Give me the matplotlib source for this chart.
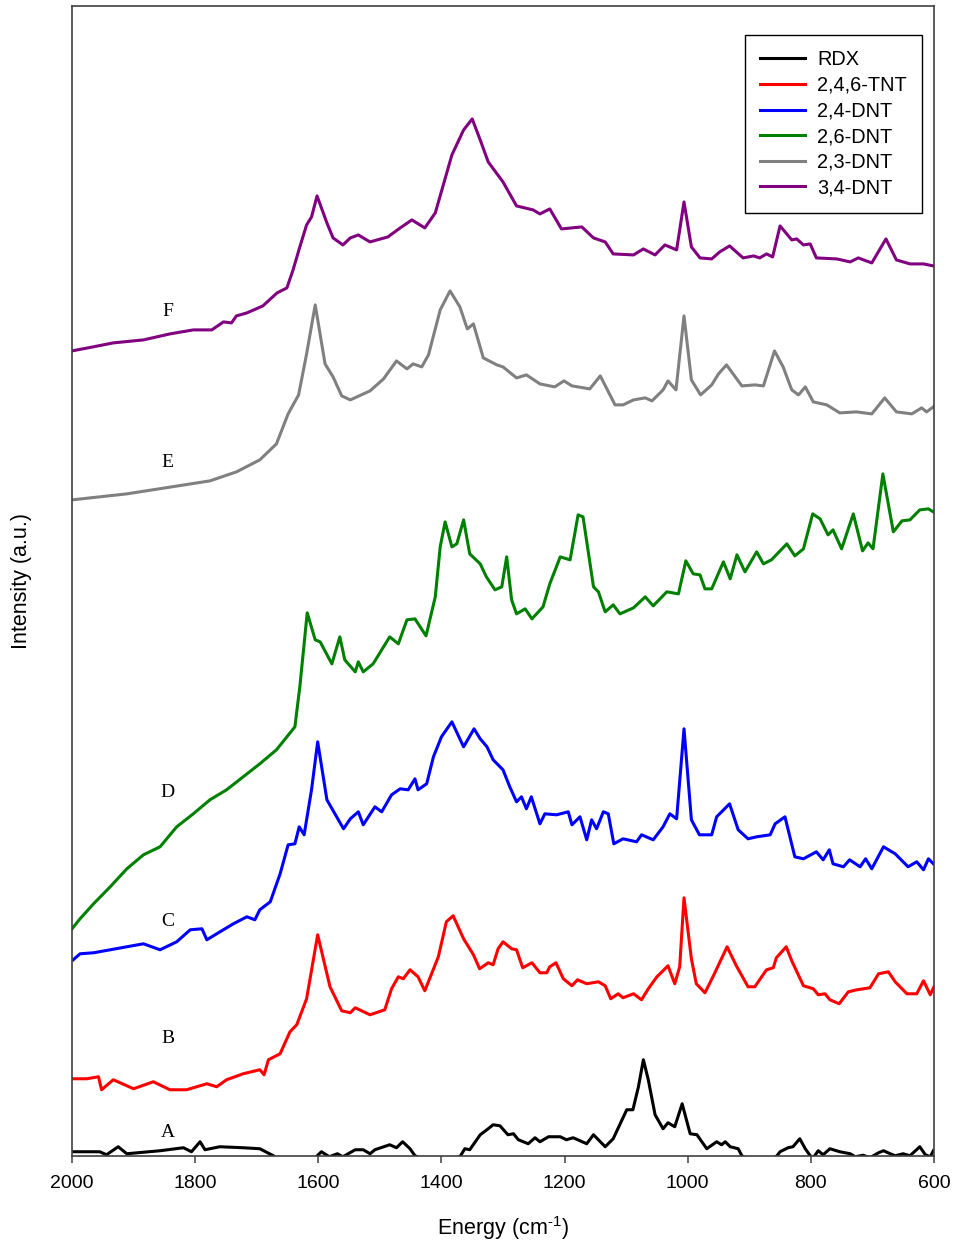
import numpy as np
import matplotlib
matplotlib.use("Agg")
import matplotlib.pyplot as plt

# Raman spectra, offset traces (energy in cm-1, intensity in a.u.)
rdx_x = [2000, 1955, 1944, 1925, 1911, 1857, 1819, 1806, 1792, 1784, 1760, 1722, 1695, 1673,
         1662, 1630, 1605, 1595, 1582, 1569, 1560, 1540, 1527, 1516, 1508, 1484, 1473, 1463,
         1451, 1443, 1419, 1386, 1370, 1362, 1354, 1337, 1324, 1316, 1305, 1292, 1283, 1275,
         1259, 1248, 1240, 1226, 1207, 1197, 1186, 1164, 1153, 1134, 1121, 1099, 1089, 1080,
         1072, 1064, 1053, 1040, 1032, 1021, 1009, 996, 985, 969, 953, 945, 939, 931, 918,
         912, 891, 866, 855, 850, 837, 829, 818, 809, 801, 796, 788, 780, 769, 753, 736, 728,
         715, 704, 690, 682, 671, 663, 650, 639, 623, 614, 606, 601]
rdx_y = [4, 4, 1, 9, 2, 5, 8, 4, 14, 6, 9, 8, 7, 0,
         -5, -5, -2, 4, -1, 2, -1, 6, 6, 2, 6, 11, 8, 14,
         7, 0, -6, -4, -1, 7, 6, 21, 27, 31, 30, 21, 22, 16,
         12, 18, 14, 19, 19, 16, 18, 12, 21, 9, 17, 46, 46, 69,
         96, 76, 41, 27, 33, 29, 52, 22, 21, 7, 14, 11, 14, 9, 7,
         0, -8, -6, 0, 4, 8, 9, 17, 7, 0, -2, 5, 1, 7, 4, 2, -1,
         0.5, -2, 3, 5, 2, 0, 2, 0, 9, 1, -1, 5]

tnt_x = [2000, 1976, 1957, 1952, 1933, 1900, 1868, 1841, 1814, 1781, 1765, 1749, 1722, 1695,
         1688, 1681, 1662, 1646, 1635, 1619, 1601, 1581, 1562, 1548, 1540, 1516, 1492, 1481,
         1470, 1462, 1451, 1438, 1427, 1405, 1392, 1381, 1364, 1348, 1338, 1324, 1316, 1308,
         1300, 1286, 1278, 1268, 1253, 1240, 1229, 1224, 1214, 1202, 1188, 1179, 1164, 1145,
         1134, 1125, 1113, 1105, 1088, 1075, 1064, 1050, 1032, 1021, 1013, 1006, 994, 986,
         972, 959, 936, 921, 902, 891, 872, 861, 856, 840, 831, 812, 796, 788, 777, 769, 754,
         739, 725, 704, 690, 674, 663, 644, 628, 617, 606, 600]
tnt_y = [77, 77, 79, 66, 76, 67, 74, 66, 66, 72, 69, 76, 82, 86,
         81, 96, 102, 124, 131, 157, 221, 169, 145, 143, 148, 141, 146, 167,
         179, 177, 186, 179, 165, 199, 234, 240, 217, 201, 187, 193, 191, 207,
         214, 207, 206, 188, 193, 183, 183, 189, 193, 177, 170, 176, 172, 174,
         170, 157, 162, 158, 162, 156, 167, 179, 190, 172, 189, 258, 197, 172,
         163, 179, 209, 190, 169, 169, 186, 188, 198, 209, 195, 170, 167, 161, 162, 156, 152,
         164, 166, 168, 182, 184, 174, 162, 162, 175, 161, 169]

dnt24_x = [1998, 1987, 1965, 1938, 1911, 1884, 1857, 1830, 1808, 1789, 1781, 1765, 1738, 1716,
           1703, 1695, 1678, 1662, 1649, 1638, 1631, 1623, 1611, 1601, 1586, 1573, 1559, 1548,
           1535, 1527, 1508, 1497, 1481, 1467, 1454, 1443, 1438, 1424, 1413, 1400, 1383, 1364,
           1347, 1337, 1326, 1316, 1300, 1289, 1278, 1270, 1262, 1254, 1240, 1232, 1213, 1194,
           1188, 1175, 1164, 1156, 1148, 1137, 1129, 1120, 1105, 1083, 1075, 1056, 1040, 1029,
           1018, 1006, 994, 981, 961, 953, 932, 918, 902, 888, 866, 858, 842, 826, 812, 791,
           780, 770, 764, 747, 737, 720, 711, 701, 682, 663, 642, 628, 617, 609, 601]
dnt24_y = [196, 202, 203, 206, 209, 212, 206, 214, 226, 227, 216, 222, 232, 239,
           236, 246, 254, 282, 311, 312, 329, 321, 366, 414, 356, 342, 327, 337,
           344, 331, 349, 344, 361, 367, 366, 377, 366, 372, 399, 419, 434, 409,
           427, 417, 409, 396, 386, 369, 354, 359, 347, 359, 332, 342, 341, 344,
           331, 339, 316, 336, 327, 344, 342, 312, 317, 314, 321, 316, 329, 342,
           337, 427, 336, 321, 321, 339, 352, 326, 317, 319, 321, 332, 339, 299, 297, 304,
           296, 306, 292, 289, 296, 289, 297, 287, 309, 302, 289, 294, 286, 297, 292]

dnt26_x = [2000, 1987, 1965, 1938, 1911, 1884, 1857, 1830, 1803, 1776, 1749, 1722, 1695, 1668,
           1651, 1638, 1630, 1618, 1605, 1597, 1578, 1565, 1557, 1540, 1535, 1527, 1511, 1484,
           1470, 1456, 1443, 1425, 1410, 1402, 1394, 1383, 1375, 1364, 1354, 1337, 1327, 1313,
           1302, 1294, 1286, 1278, 1264, 1253, 1235, 1224, 1207, 1191, 1178, 1170, 1153, 1145,
           1134, 1121, 1110, 1088, 1069, 1056, 1034, 1015, 1003, 991, 980, 972, 961, 942, 931,
           920, 907, 888, 877, 864, 839, 826, 812, 797, 785, 772, 764, 750, 731, 716, 707, 699,
           683, 666, 652, 639, 623, 609, 601]
dnt26_y = [227, 237, 252, 269, 287, 301, 309, 329, 342, 356, 366, 379, 392, 406,
           419, 429, 469, 543, 516, 514, 492, 519, 496, 484, 494, 484, 492, 519,
           512, 536, 537, 520, 559, 609, 634, 609, 612, 636, 602, 592, 579, 566,
           569, 599, 556, 542, 547, 537, 549, 572, 599, 596, 641, 639, 569, 564,
           544, 551, 542, 548, 559, 550, 564, 562, 595, 582, 581, 567, 567, 594, 577,
           601, 584, 604, 592, 596, 612, 600, 607, 642, 637, 621, 626, 607, 642, 605, 613, 607,
           682, 624, 635, 636, 646, 647, 644]

dnt23_x = [2000, 1911, 1776, 1733, 1695, 1668, 1649, 1632, 1619, 1605, 1589, 1576, 1562, 1548,
           1516, 1494, 1473, 1456, 1446, 1432, 1421, 1402, 1386, 1370, 1358, 1348, 1332, 1310,
           1300, 1278, 1262, 1240, 1216, 1201, 1188, 1159, 1142, 1118, 1105, 1088, 1069, 1058,
           1040, 1032, 1019, 1006, 994, 979, 961, 950, 937, 912, 891, 877, 859, 845, 831, 820,
           809, 796, 774, 753, 726, 701, 680, 661, 636, 620, 612, 601]
dnt23_y = [656, 662, 675, 684, 696, 712, 742, 761, 802, 851, 792, 779, 760, 756,
           765, 777, 795, 787, 792, 789, 801, 846, 865, 849, 827, 832, 798, 791,
           789, 778, 781, 772, 769, 775, 770, 767, 780, 751, 751, 756, 758, 755,
           766, 775, 766, 840, 776, 761, 771, 782, 791, 770, 771, 770, 805, 789, 766, 761,
           769, 754, 751, 743, 744, 742, 758, 744, 742, 748, 744, 749]

dnt34_x = [2000, 1966, 1933, 1884, 1841, 1803, 1773, 1754, 1741, 1733, 1716, 1690, 1667, 1651,
           1641, 1630, 1619, 1611, 1602, 1586, 1576, 1560, 1548, 1535, 1516, 1487, 1467, 1448,
           1427, 1410, 1383, 1364, 1350, 1337, 1324, 1300, 1278, 1251, 1240, 1224, 1205, 1172,
           1153, 1134, 1121, 1088, 1072, 1053, 1037, 1018, 1006, 994, 980, 961, 948, 932, 910,
           893, 883, 872, 862, 850, 831, 823, 812, 801, 791, 758, 736, 723, 701, 678, 661, 639,
           617, 601]
dnt34_y = [805, 809, 813, 816, 822, 826, 826, 834, 833, 840, 843, 850, 863, 868,
           886, 909, 931, 939, 960, 933, 918, 911, 918, 921, 914, 919, 928, 936,
           928, 943, 1001, 1026, 1037, 1016, 994, 974, 950, 946, 942, 947, 927, 929,
           918, 914, 902, 901, 907, 901, 911, 906, 954, 909, 898, 897, 904, 910, 898,
           900, 898, 902, 899, 930, 916, 917, 911, 912, 898, 897, 894, 898, 893, 917, 896, 892,
           892, 890]

names = ["RDX", "2,4,6-TNT", "2,4-DNT", "2,6-DNT", "2,3-DNT", "3,4-DNT"]
colors = ["black", "#FF0000", "#0000FF", "#008000", "#808080", "#800080"]
letters = ["A", "B", "C", "D", "E", "F"]
letter_y = [23, 117, 234, 363, 693, 844]

series = [(rdx_x, rdx_y), (tnt_x, tnt_y), (dnt24_x, dnt24_y),
          (dnt26_x, dnt26_y), (dnt23_x, dnt23_y), (dnt34_x, dnt34_y)]

plt.rcParams["mathtext.fontset"] = "custom"
plt.rcParams["mathtext.rm"] = "Liberation Sans"
plt.rcParams["mathtext.it"] = "Liberation Sans"

fig = plt.figure(figsize=(9.54, 12.43), dpi=100)
ax = fig.add_axes([0.0755, 0.0702, 0.9035, 0.925])

for (xs, ys), name, col in zip(series, names, colors):
    ax.plot(xs, ys, color=col, lw=2.2, label=name, solid_joinstyle="round")

for let, yy in zip(letters, letter_y):
    ax.text(1845, yy, let, family="Liberation Serif", fontsize=14,
            ha="center", va="center")

ax.set_xlim(2000, 600)
ax.set_ylim(0, 1150)
ax.set_xticks(np.arange(2000, 599, -200))
ax.set_yticks([])
ax.tick_params(axis="x", direction="out", length=5, width=1.1, color="#404040",
               pad=9, labelsize=14)
for lab in ax.get_xticklabels():
    lab.set_family("Liberation Sans")
for sp in ax.spines.values():
    sp.set_color("#404040")
    sp.set_linewidth(1.2)

ax.set_xlabel(r"Energy (cm$^{\text{-1}}$)", fontsize=15.5, family="Liberation Sans")
ax.set_ylabel("Intensity (a.u.)", fontsize=15.5, family="Liberation Sans")
ax.xaxis.set_label_coords(0.5, -0.051)
ax.yaxis.set_label_coords(-0.046, 0.5)

leg = ax.legend(loc="upper right", bbox_to_anchor=(0.9864, 0.9748), borderaxespad=0,
                fancybox=False, framealpha=1, edgecolor="black", handlelength=2.26,
                handletextpad=0.59, labelspacing=0.33, borderpad=0.78,
                prop={"family": "Liberation Sans", "size": 14.3})
leg.get_frame().set_linewidth(1.0)

fig.savefig("out.png", dpi=100)
